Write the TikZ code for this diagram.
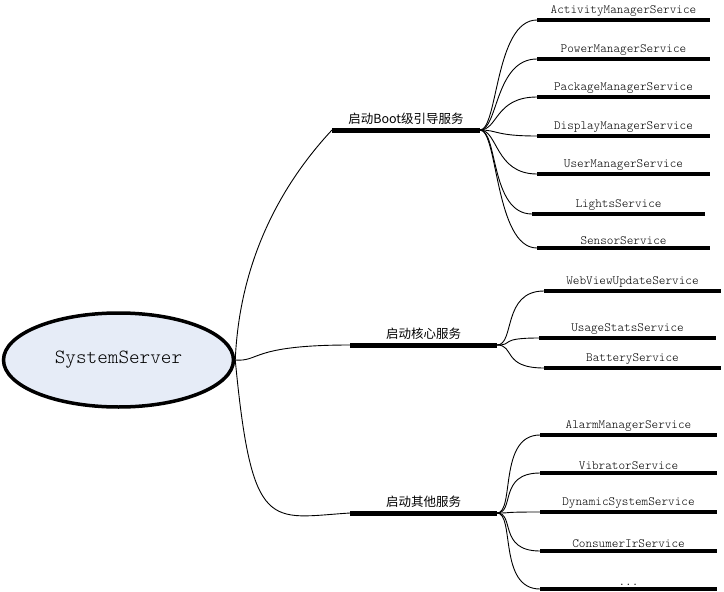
\documentclass[tikz,border=0pt]{standalone}
\usepackage{fontspec}
\setmonofont{Latin Modern Mono Light}
\newfontfamily\cjk{Noto Sans CJK SC}
\usetikzlibrary{shapes.geometric}
\definecolor{ssblue}{HTML}{E6ECF7}
\begin{document}
\begin{tikzpicture}[x=1pt,y=1pt,
  bar/.style={line width=4pt},
  trunk/.style={line width=5pt},
  link/.style={line width=0.9pt},
  leaf/.style={font=\fontsize{12.6}{14}\ttfamily,above,inner sep=1.5pt},
  group/.style={font=\fontsize{12.5}{14}\cjk,above,inner sep=2.5pt}]
\useasboundingbox (0,0) rectangle (724,-592);
\node[ellipse,draw,line width=3.5pt,fill=ssblue,minimum width=230,minimum height=94,
  font=\fontsize{20.2}{22}\ttfamily] (ss) at (118.5,-360) {SystemServer};
% three groups
\draw[trunk] (332,-130) coordinate (boot-l) -- (480,-130) coordinate (boot-r) node[midway,group] {启动Boot级引导服务};
\draw[trunk] (350,-345) coordinate (core-l) -- (497,-345) coordinate (core-r) node[midway,group] {启动核心服务};
\draw[trunk] (350,-513) coordinate (other-l) -- (497,-513) coordinate (other-r) node[midway,group] {启动其他服务};
\draw[link] (ss.east) .. controls (240,-250) and (290,-175) .. (boot-l);
\draw[link] (ss.east) .. controls (260,-362) and (250,-345) .. (core-l);
\draw[link] (ss.east) .. controls (252,-535) and (270,-518) .. (other-l);
% boot services
\draw[bar] (537,-20) coordinate (ams) -- (710,-20) node[midway,leaf] {ActivityManagerService};
\draw[bar] (537,-59) coordinate (pms) -- (710,-59) node[midway,leaf] {PowerManagerService};
\draw[bar] (537,-97) coordinate (pkms) -- (710,-97) node[midway,leaf] {PackageManagerService};
\draw[bar] (537,-136) coordinate (dms) -- (710,-136) node[midway,leaf] {DisplayManagerService};
\draw[bar] (537,-174) coordinate (ums) -- (710,-174) node[midway,leaf] {UserManagerService};
\draw[bar] (532,-214) coordinate (ls) -- (705,-214) node[midway,leaf] {LightsService};
\draw[bar] (537,-248) coordinate (sens) -- (710,-248) node[midway,leaf] {SensorService};
\foreach \t in {ams,pms,pkms,dms,ums,ls,sens}
  \draw[link] (boot-r) .. controls +(18,0) and +(-42,0) .. (\t);
% core services
\draw[bar] (544,-291) coordinate (wvus) -- (721,-291) node[midway,leaf] {WebViewUpdateService};
\draw[bar] (539,-338) coordinate (uss) -- (716,-338) node[midway,leaf] {UsageStatsService};
\draw[bar] (544,-368) coordinate (bs) -- (721,-368) node[midway,leaf] {BatteryService};
\foreach \t in {wvus,uss,bs}
  \draw[link] (core-r) .. controls +(18,0) and +(-42,0) .. (\t);
% other services
\draw[bar] (540,-435) coordinate (alms) -- (717,-435) node[midway,leaf] {AlarmManagerService};
\draw[bar] (540,-473) coordinate (vs) -- (717,-473) node[midway,leaf] {VibratorService};
\draw[bar] (540,-512) coordinate (dss) -- (717,-512) node[midway,leaf] {DynamicSystemService};
\draw[bar] (540,-551) coordinate (cis) -- (717,-551) node[midway,leaf] {ConsumerIrService};
\draw[bar] (540,-589) coordinate (more) -- (717,-589) node[midway,leaf] {...};
\foreach \t in {alms,vs,dss,cis,more}
  \draw[link] (other-r) .. controls +(18,0) and +(-42,0) .. (\t);
\end{tikzpicture}
\end{document}
